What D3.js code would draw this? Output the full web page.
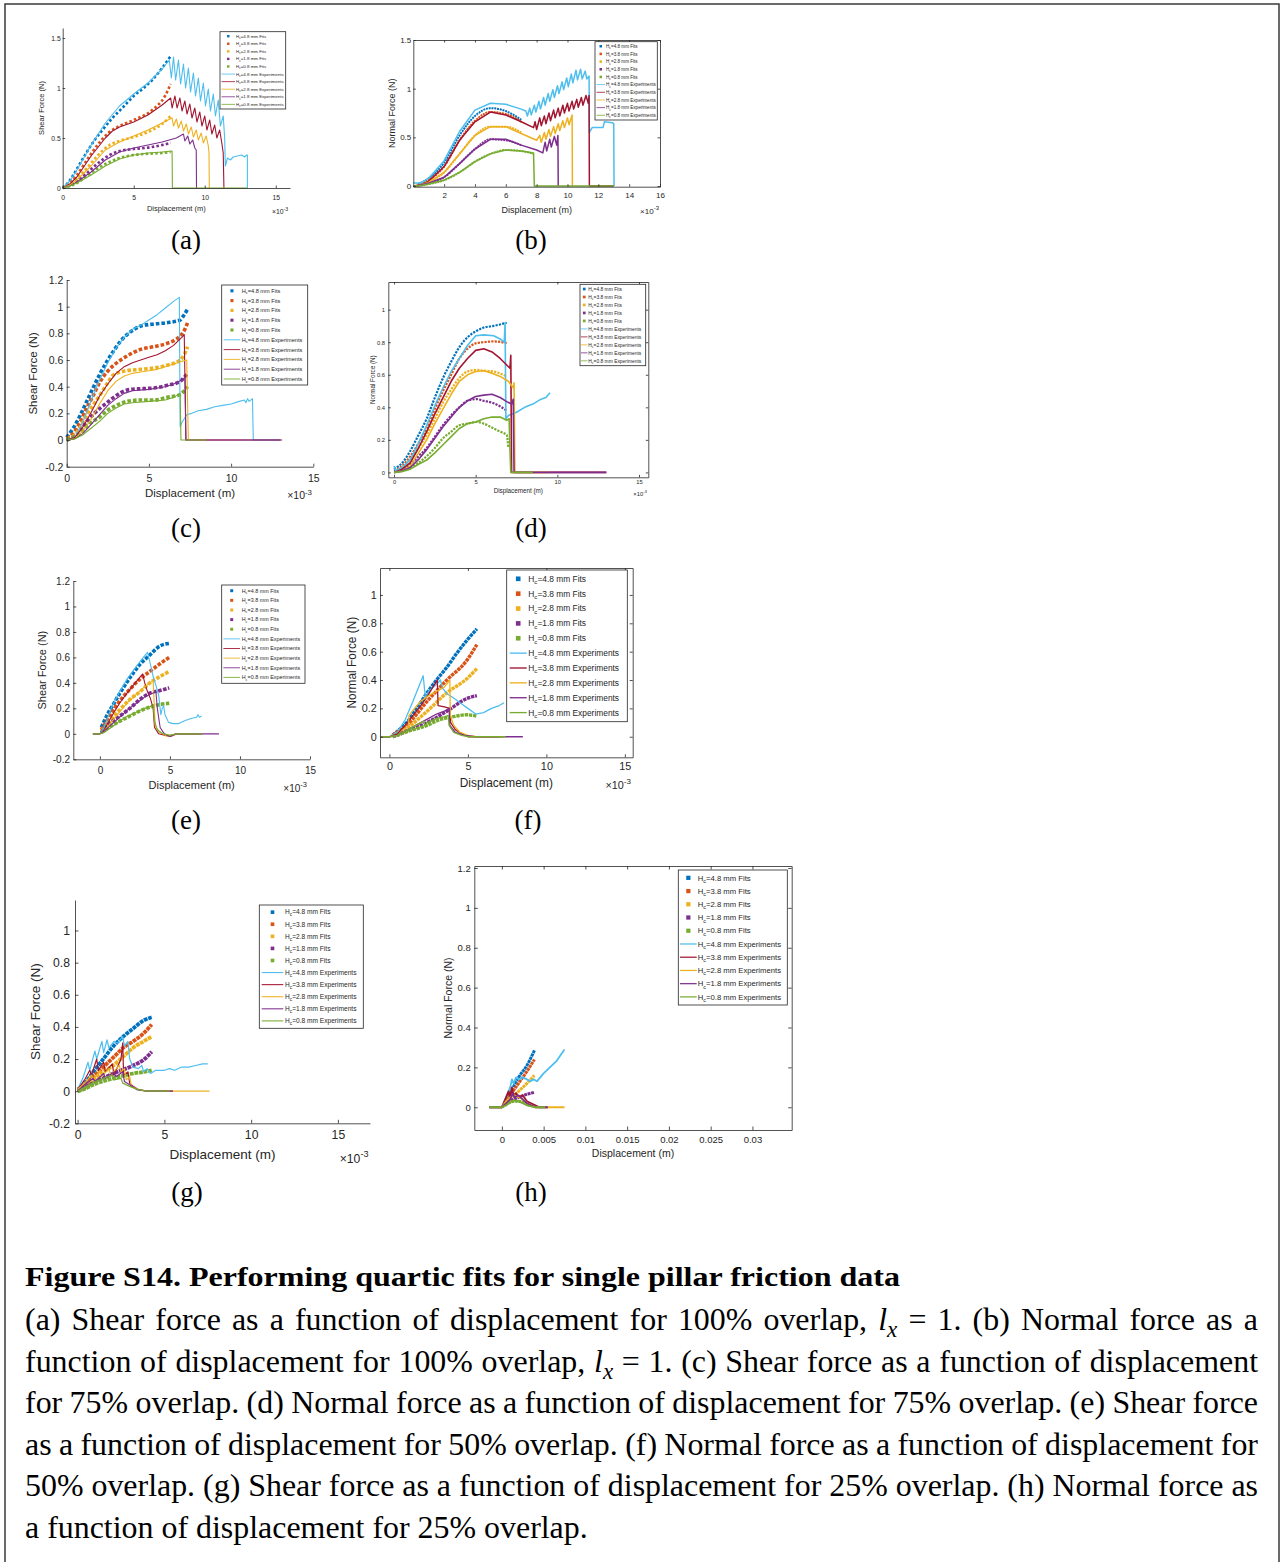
<!DOCTYPE html>
<html>
<head>
<meta charset="utf-8">
<script src="https://cdn.jsdelivr.net/npm/d3@7"></script>
<style>
	body { margin: 0; background: #fff; }
	svg { display: block; }
</style>
</head>
<body>
<svg id="fig" width="1282" height="1562"></svg>
<script>
// Series names, colours (MATLAB default order)
const heights = ['4.8', '3.8', '2.8', '1.8', '0.8'];
const fit_colours = ['#0072BD', '#D95319', '#EDB120', '#7E2F8E', '#77AC30'];
const exp_colours = ['#4DBEEE', '#A2142F', '#EDB120', '#7E2F8E', '#77AC30'];

// Tick values (x in units of 1e-3 m)
const ticks_x_0_15 = [0, 5, 10, 15];
const ticks_x_b = [2, 4, 6, 8, 10, 12, 14, 16];
const ticks_x_h = [0, 5, 10, 15, 20, 25, 30];
const labels_x_h = ['0', '0.005', '0.01', '0.015', '0.02', '0.025', '0.03'];
const ticks_y_half = [0, 0.5, 1, 1.5];
const ticks_y_shear = [-0.2, 0, 0.2, 0.4, 0.6, 0.8, 1, 1.2];
const ticks_y_shear_g = [-0.2, 0, 0.2, 0.4, 0.6, 0.8, 1];
const ticks_y_normal = [0, 0.2, 0.4, 0.6, 0.8, 1];
const ticks_y_normal_h = [0, 0.2, 0.4, 0.6, 0.8, 1, 1.2];

// (a) shear, 100% overlap
const a_fits = [
	[[0,0],[0.3,0.04],[0.7,0.12],[1.2,0.24],[1.7,0.36],[2.2,0.47],[2.8,0.58],[3.5,0.7],[4.2,0.8],[5,0.92],[5.7,1.0],[6.3,1.08],[7,1.2],[7.6,1.32]],
	[[0,0],[0.5,0.05],[1,0.13],[1.7,0.28],[2.5,0.44],[3.2,0.55],[4,0.62],[5,0.68],[6.3,0.78],[7.2,0.92],[7.6,1.04]],
	[[0,0],[0.5,0.04],[1,0.1],[1.7,0.2],[2.5,0.33],[3.3,0.43],[4,0.47],[5,0.51],[6.3,0.58],[7,0.64],[7.6,0.72]],
	[[0,0],[0.5,0.03],[1,0.07],[1.7,0.15],[2.5,0.25],[3.3,0.33],[4,0.37],[5,0.39],[6.3,0.41],[7,0.43],[7.6,0.45]],
	[[0,0],[0.5,0.02],[1,0.05],[1.7,0.12],[2.5,0.2],[3.3,0.26],[4,0.3],[5,0.33],[6.3,0.345],[7,0.35],[7.6,0.36]]
];
const a_exps = [
	[[0,0],[0.5,0.07],[1,0.18],[2,0.43],[3,0.65],[4,0.82],[5,0.94],[6,1.05],[7,1.19],[7.5,1.28],[7.65,1.1],[7.8,1.31],[7.95,1.08],[8.15,1.28],[8.3,1.04],[8.5,1.24],[8.65,1.0],[8.85,1.2],[9.0,0.96],[9.2,1.15],[9.35,0.92],[9.55,1.1],[9.7,0.87],[9.9,1.05],[10.05,0.82],[10.25,0.99],[10.4,0.77],[10.6,0.94],[10.75,0.72],[10.95,0.88],[11.1,0.62],[11.3,0.72],[11.4,0.5],[11.45,0.22],[11.6,0.3],[11.8,0.28],[12.0,0.31],[12.3,0.32],[12.6,0.33],[12.8,0.31],[12.95,0.33],[13.0,0.33],[13.0,0]],
	[[0,0],[0.5,0.04],[1,0.11],[2,0.32],[3,0.5],[3.5,0.57],[4,0.61],[5,0.66],[6,0.73],[7,0.83],[7.6,0.9],[7.7,0.8],[7.9,0.92],[8.05,0.8],[8.25,0.9],[8.4,0.77],[8.6,0.87],[8.75,0.74],[8.95,0.84],[9.1,0.7],[9.3,0.8],[9.45,0.66],[9.65,0.76],[9.8,0.62],[10.0,0.72],[10.15,0.58],[10.35,0.68],[10.5,0.54],[10.7,0.63],[10.85,0.5],[11.05,0.58],[11.2,0.45],[11.3,0.35],[11.35,0]],
	[[0,0],[0.5,0.03],[1,0.08],[2,0.22],[3,0.38],[4,0.46],[5,0.52],[6,0.58],[7,0.65],[7.7,0.7],[7.8,0.62],[8.0,0.69],[8.15,0.6],[8.35,0.67],[8.5,0.57],[8.7,0.64],[8.85,0.54],[9.05,0.61],[9.2,0.51],[9.4,0.58],[9.55,0.48],[9.75,0.55],[9.9,0.45],[10.1,0.52],[10.25,0.42],[10.3,0.35],[10.32,0]],
	[[0,0],[0.5,0.02],[1,0.06],[2,0.16],[3,0.28],[4,0.36],[5,0.4],[6,0.43],[7,0.46],[8,0.5],[8.5,0.54],[8.6,0.47],[8.8,0.52],[8.95,0.44],[9.15,0.48],[9.3,0.4],[9.4,0.38],[9.42,0]],
	[[0,0],[0.5,0.02],[1,0.05],[2,0.13],[3,0.22],[4,0.29],[5,0.33],[6,0.35],[7,0.36],[7.7,0.37],[7.72,0],[13,0]]
];

// (b) normal, 100% overlap
const b_fits = [
	[[0.3,0.02],[1,0.08],[2,0.24],[3,0.52],[4,0.72],[5,0.8],[6,0.77],[7,0.68]],
	[[0.3,0.01],[1,0.06],[2,0.2],[3,0.47],[4,0.67],[5,0.76],[6,0.74],[7,0.66]],
	[[0.3,0.01],[1,0.04],[2,0.14],[3,0.33],[4,0.52],[5,0.61],[6,0.61],[7,0.55]],
	[[0.3,0.01],[1,0.03],[2,0.09],[3,0.23],[4,0.38],[5,0.48],[6,0.47],[7,0.42]],
	[[0.3,0],[1,0.02],[2,0.06],[3,0.14],[4,0.25],[5,0.33],[6,0.37],[7,0.36],[7.8,0.33]]
];
const b_exps = [
	[[0,0.03],[0.5,0.03],[1,0.08],[2,0.26],[3,0.56],[4,0.78],[5,0.85],[6,0.84],[7,0.79],[7.3,0.77],[7.4,0.72],[7.55,0.8],[7.65,0.73],[7.85,0.83],[7.95,0.76],[8.15,0.87],[8.25,0.79],[8.45,0.91],[8.55,0.83],[8.75,0.95],[8.85,0.87],[9.05,0.99],[9.15,0.91],[9.35,1.03],[9.45,0.95],[9.65,1.07],[9.75,0.99],[9.95,1.11],[10.05,1.02],[10.25,1.15],[10.35,1.06],[10.55,1.19],[10.65,1.09],[10.85,1.2],[10.95,1.1],[11.15,1.18],[11.25,1.1],[11.4,1.13],[11.42,0.55],[11.6,0.6],[12.0,0.6],[12.3,0.6],[12.4,0.66],[12.9,0.65],[13.0,0.64],[13.02,0]],
	[[0,0],[0.5,0.01],[1,0.05],[2,0.2],[3,0.47],[4,0.66],[5,0.76],[6,0.73],[7,0.66],[7.8,0.6],[7.9,0.66],[8.0,0.58],[8.2,0.7],[8.3,0.62],[8.5,0.72],[8.6,0.64],[8.8,0.75],[8.9,0.67],[9.1,0.78],[9.2,0.7],[9.4,0.8],[9.5,0.72],[9.7,0.83],[9.8,0.75],[10.0,0.85],[10.1,0.77],[10.3,0.87],[10.4,0.79],[10.6,0.89],[10.7,0.81],[10.9,0.91],[11.0,0.83],[11.2,0.93],[11.35,0.85],[11.4,0.93],[11.42,0],[13,0]],
	[[0,0],[0.5,0.01],[1,0.04],[2,0.14],[3,0.33],[4,0.52],[5,0.61],[6,0.61],[7,0.54],[8,0.47],[8.2,0.52],[8.3,0.45],[8.5,0.55],[8.6,0.48],[8.8,0.58],[8.9,0.51],[9.1,0.61],[9.2,0.54],[9.4,0.64],[9.5,0.57],[9.7,0.67],[9.8,0.6],[10.0,0.7],[10.1,0.63],[10.3,0.73],[10.32,0]],
	[[0,0],[0.5,0.01],[1,0.03],[2,0.09],[3,0.23],[4,0.38],[5,0.48],[6,0.48],[7,0.42],[8,0.37],[8.4,0.34],[8.55,0.45],[8.65,0.36],[8.85,0.48],[8.95,0.4],[9.15,0.51],[9.3,0.42],[9.38,0.52],[9.4,0]],
	[[0,0],[0.5,0.005],[1,0.02],[2,0.06],[3,0.14],[4,0.25],[5,0.33],[6,0.37],[7,0.36],[7.8,0.34],[7.85,0],[13,0]]
];

// (c) shear, 75% overlap
const c_fits = [
	[[0,0.02],[0.4,0.09],[0.8,0.18],[1.22,0.29],[1.6,0.39],[2.04,0.5],[2.45,0.59],[2.86,0.67],[3.27,0.74],[3.67,0.79],[4.1,0.83],[4.5,0.855],[5.3,0.87],[6.1,0.88],[6.9,0.9],[7.15,0.94],[7.35,0.98]],
	[[0,0.01],[0.4,0.05],[0.8,0.13],[1.22,0.24],[1.6,0.33],[2.04,0.44],[2.45,0.51],[2.86,0.56],[3.67,0.63],[4.5,0.68],[5.3,0.7],[6.1,0.725],[6.9,0.78],[7.15,0.82],[7.35,0.88]],
	[[0,0.01],[0.4,0.03],[0.8,0.09],[1.22,0.19],[1.6,0.26],[2.04,0.34],[2.45,0.42],[2.86,0.49],[3.67,0.52],[4.5,0.53],[5.3,0.54],[6.1,0.56],[6.9,0.6],[7.15,0.64],[7.35,0.7]],
	[[0,0],[0.4,0.02],[0.8,0.06],[1.22,0.14],[1.6,0.19],[2.04,0.24],[2.45,0.28],[2.86,0.32],[3.67,0.375],[4.5,0.385],[5.3,0.39],[6.1,0.41],[6.9,0.44],[7.15,0.47],[7.35,0.5]],
	[[0,0],[0.4,0.02],[0.8,0.05],[1.22,0.1],[1.6,0.14],[2.04,0.175],[2.45,0.22],[2.86,0.25],[3.67,0.29],[4.5,0.3],[5.3,0.3],[6.1,0.32],[6.9,0.34],[7.15,0.37],[7.35,0.4]]
];
const c_exps = [
	[[0,0],[0.5,0.02],[1,0.14],[1.5,0.3],[2,0.45],[2.5,0.58],[3,0.69],[3.5,0.77],[4,0.83],[4.5,0.86],[5,0.9],[5.5,0.94],[6,0.99],[6.5,1.04],[6.85,1.07],[6.9,0.1],[7.0,0.13],[7.3,0.19],[7.6,0.2],[8,0.22],[8.5,0.23],[9,0.25],[9.5,0.26],[10,0.27],[10.5,0.29],[10.8,0.3],[10.9,0.28],[11.0,0.31],[11.1,0.29],[11.3,0.31],[11.35,0],[13,0]],
	[[0,0],[0.5,0.02],[1,0.1],[1.5,0.21],[2,0.33],[2.5,0.42],[3,0.5],[3.5,0.55],[4,0.58],[4.5,0.6],[5,0.62],[5.5,0.64],[6,0.67],[6.5,0.71],[7,0.77],[7.15,0.79],[7.25,0],[13.1,0]],
	[[0,0],[0.5,0.01],[1,0.07],[1.5,0.16],[2,0.27],[2.5,0.37],[3,0.44],[3.5,0.48],[4,0.5],[4.5,0.51],[5,0.52],[5.5,0.53],[6,0.55],[6.5,0.57],[7,0.59],[7.3,0.6],[7.4,0],[8.5,0]],
	[[0,0],[0.5,0.01],[1,0.05],[1.5,0.12],[2,0.19],[2.5,0.26],[3,0.31],[3.5,0.35],[4,0.37],[5,0.38],[6,0.4],[6.5,0.42],[7,0.45],[7.2,0.47],[7.25,0],[13,0]],
	[[0,0],[0.5,0.01],[1,0.04],[1.5,0.09],[2,0.14],[2.5,0.2],[3,0.24],[3.5,0.27],[4,0.28],[5,0.29],[6,0.3],[6.5,0.32],[6.9,0.35],[6.95,0],[8.5,0]]
];

// (d) normal, 75% overlap
const d_fits = [
	[[0,0.02],[0.57,0.066],[0.98,0.13],[1.5,0.23],[2,0.33],[2.5,0.46],[3,0.58],[3.5,0.68],[4,0.77],[4.5,0.83],[5.06,0.87],[5.5,0.89],[6.1,0.9],[6.9,0.92]],
	[[0,0.01],[0.5,0.04],[1,0.1],[1.5,0.18],[2,0.27],[2.5,0.39],[3,0.5],[3.5,0.6],[4,0.7],[4.5,0.76],[5.06,0.795],[5.5,0.8],[6.1,0.805],[6.9,0.795]],
	[[0,0.01],[0.5,0.03],[1,0.08],[1.5,0.15],[2,0.23],[2.5,0.33],[3,0.43],[3.5,0.51],[4,0.58],[4.5,0.62],[5.06,0.63],[5.5,0.625],[6.1,0.62],[6.9,0.59]],
	[[0,0.01],[0.5,0.02],[1,0.05],[1.5,0.1],[2,0.15],[2.5,0.22],[3,0.29],[3.5,0.35],[4,0.4],[4.5,0.44],[5.06,0.45],[5.5,0.44],[6.1,0.425],[6.9,0.38]],
	[[0,0],[0.5,0.01],[1,0.03],[1.5,0.06],[2,0.1],[2.5,0.15],[3,0.21],[3.5,0.25],[4,0.29],[4.5,0.3],[5.06,0.31],[5.5,0.3],[6.1,0.27],[6.5,0.25],[6.9,0.23],[7.0,0.15]]
];
const d_exps = [
	[[0,0.04],[0.1,0.01],[0.5,0.03],[1,0.08],[1.5,0.18],[2,0.29],[2.5,0.41],[3,0.52],[3.5,0.62],[4,0.7],[4.5,0.78],[5,0.84],[5.5,0.845],[6.1,0.84],[6.5,0.82],[6.75,0.8],[6.8,0.92],[6.85,0.33],[7,0.35],[7.5,0.37],[8,0.4],[8.5,0.42],[9,0.45],[9.3,0.46],[9.55,0.49]],
	[[0,0],[0.5,0.02],[1,0.06],[1.5,0.15],[2,0.25],[2.5,0.36],[3,0.46],[3.5,0.56],[4,0.64],[4.5,0.7],[5,0.75],[5.5,0.76],[6,0.74],[6.5,0.7],[6.9,0.66],[7.1,0.64],[7.15,0.72],[7.2,0],[13,0]],
	[[0,0],[0.5,0.01],[1,0.04],[1.5,0.12],[2,0.2],[2.5,0.3],[3,0.39],[3.5,0.48],[4,0.56],[4.5,0.6],[5,0.62],[5.5,0.625],[6,0.61],[6.5,0.59],[7,0.56],[7.3,0.52],[7.35,0.55],[7.4,0],[9.5,0]],
	[[0,0],[0.5,0.01],[1,0.03],[1.5,0.08],[2,0.14],[2.5,0.21],[3,0.28],[3.5,0.34],[4,0.4],[4.5,0.44],[5,0.466],[5.5,0.475],[6,0.48],[6.5,0.46],[6.9,0.435],[7.2,0.42],[7.3,0.45],[7.35,0],[13,0]],
	[[0,0],[0.5,0.005],[1,0.02],[1.5,0.05],[2,0.076],[2.5,0.12],[3,0.17],[3.5,0.22],[4,0.27],[4.5,0.3],[5,0.31],[5.5,0.33],[6,0.34],[6.5,0.34],[6.9,0.32],[7.05,0.33],[7.1,0.14],[7.15,0],[8.5,0]]
];

// (e) shear, 50% overlap
const e_fits = [
	[[0.1,0.05],[0.48,0.14],[0.95,0.23],[1.43,0.32],[2.14,0.44],[2.86,0.545],[3.57,0.62],[4.29,0.69],[4.95,0.71]],
	[[0.1,0.03],[0.48,0.1],[1.43,0.26],[2.14,0.35],[2.86,0.43],[3.57,0.49],[4.29,0.55],[4.95,0.6]],
	[[0.1,0.02],[0.48,0.07],[1.43,0.19],[2.14,0.27],[2.86,0.33],[3.57,0.4],[4.29,0.45],[4.95,0.49]],
	[[0.1,0.01],[0.48,0.06],[1.43,0.14],[2.14,0.2],[2.86,0.27],[3.57,0.32],[4.29,0.34],[4.95,0.36]],
	[[0.1,0.01],[0.48,0.04],[1.43,0.1],[2.14,0.14],[2.86,0.18],[3.57,0.21],[4.29,0.23],[4.95,0.24]]
];
const e_exps = [
	[[-0.5,0],[0,0],[0.3,0.05],[0.8,0.2],[1.4,0.33],[2,0.44],[2.6,0.53],[3.1,0.6],[3.4,0.64],[3.6,0.55],[3.8,0.45],[4.0,0.38],[4.2,0.3],[4.35,0.15],[4.45,0.2],[4.55,0.22],[4.65,0.15],[4.9,0.09],[5.2,0.08],[5.6,0.08],[6,0.1],[6.5,0.12],[6.9,0.13],[7.0,0.15],[7.1,0.13],[7.26,0.14]],
	[[-0.5,0],[0,0],[0.3,0.03],[0.8,0.13],[1.4,0.24],[2,0.33],[2.6,0.41],[3.05,0.47],[3.2,0.4],[3.4,0.33],[3.6,0.28],[3.8,0.2],[3.9,0.05],[4.2,0],[4.6,-0.01],[5,-0.02],[5.3,-0.01],[5.5,0],[7.3,0]],
	[[-0.5,0],[0,0],[0.3,0.02],[0.8,0.09],[1.4,0.17],[2,0.25],[2.6,0.31],[3.2,0.37],[3.8,0.42],[3.85,0.3],[3.95,0.06],[4.3,0.01],[4.8,-0.02],[5.2,-0.01],[5.5,0],[7.3,0]],
	[[-0.5,0],[0,0],[0.3,0.02],[0.8,0.07],[1.4,0.13],[2,0.19],[2.6,0.24],[3.2,0.29],[3.8,0.32],[4.0,0.33],[4.1,0.2],[4.3,0.05],[4.6,0],[5,-0.02],[5.4,0],[8.5,0]],
	[[-0.5,0],[0,0],[0.3,0.01],[0.8,0.05],[1.4,0.1],[2,0.14],[2.6,0.17],[3.2,0.2],[3.8,0.22],[3.9,0.1],[4.1,0.03],[4.5,0],[5,-0.01],[5.5,0],[7.3,0]]
];

// (f) normal, 50% overlap
const f_fits = [
	[[0.2,0.01],[0.47,0.035],[1.1,0.1],[1.75,0.2],[2.4,0.31],[3.0,0.4],[3.66,0.49],[4.3,0.59],[4.94,0.68],[5.57,0.76]],
	[[0.2,0.01],[0.47,0.03],[1.1,0.08],[2.4,0.25],[3.66,0.4],[4.94,0.54],[5.57,0.65]],
	[[0.2,0.005],[0.47,0.02],[1.1,0.06],[2.4,0.18],[3.66,0.31],[4.94,0.41],[5.57,0.48]],
	[[0.2,0],[0.47,0.01],[1.1,0.04],[2.4,0.1],[3.66,0.18],[4.94,0.27],[5.57,0.29]],
	[[0.2,0],[0.47,0.01],[1.1,0.035],[2.4,0.08],[3.2,0.12],[4.0,0.14],[4.94,0.155],[5.57,0.145]]
];
const f_exps = [
	[[-0.5,0],[0,0],[0.5,0.03],[1,0.12],[1.5,0.25],[2.15,0.43],[2.3,0.27],[2.5,0.32],[3.0,0.37],[3.25,0.4],[3.4,0.34],[3.7,0.3],[4.0,0.28],[4.5,0.24],[5,0.2],[5.5,0.16],[6,0.17],[6.5,0.2],[7,0.22],[7.3,0.24]],
	[[-0.5,0],[0,0],[0.5,0.02],[1,0.08],[1.5,0.15],[2,0.22],[2.5,0.3],[3.05,0.4],[3.1,0.22],[3.5,0.21],[3.85,0.2],[3.9,0.1],[4.2,0.05],[4.6,0.02],[5,0],[7,0]],
	[[-0.5,0],[0,0],[0.5,0.01],[1.2,0.05],[1.25,0.15],[1.6,0.2],[2,0.25],[2.5,0.29],[3,0.32],[3.5,0.35],[3.85,0.4],[3.88,0.15],[4.1,0.08],[4.5,0.03],[5,0.01],[5.5,0],[7.3,0]],
	[[-0.5,0],[0,0],[0.5,0.01],[1,0.04],[1.5,0.07],[2,0.1],[2.5,0.13],[3,0.16],[3.5,0.18],[3.8,0.2],[3.85,0.08],[4.2,0.03],[4.8,0.01],[5.5,0],[8.5,0]],
	[[-0.5,0],[0,0],[0.5,0.01],[1,0.04],[1.5,0.07],[2.2,0.11],[2.3,0.07],[2.4,0.1],[3,0.13],[3.5,0.14],[3.75,0.15],[3.8,0.08],[4.1,0.03],[4.6,0.01],[5,0],[7.4,0]]
];

// (g) shear, 25% overlap
const g_fits = [
	[[0,0.01],[0.33,0.036],[0.9,0.12],[1.48,0.2],[2.06,0.28],[2.63,0.34],[3.2,0.39],[3.8,0.44],[4.27,0.46]],
	[[0,0.01],[0.33,0.03],[0.9,0.09],[1.48,0.15],[2.06,0.21],[2.63,0.27],[3.2,0.31],[3.8,0.36],[4.27,0.415]],
	[[0,0.01],[0.33,0.02],[0.9,0.07],[1.48,0.12],[2.06,0.16],[2.63,0.215],[3.2,0.27],[3.8,0.31],[4.27,0.34]],
	[[0,0],[0.33,0.02],[0.9,0.05],[2.06,0.11],[3.2,0.16],[3.8,0.195],[4.27,0.245]],
	[[0,0],[0.33,0.01],[0.9,0.04],[2.06,0.08],[3.2,0.11],[3.8,0.12],[4.27,0.13]]
];
const g_exps = [
	[[0,0.01],[0.3,0.08],[0.6,0.18],[0.7,0.13],[1.0,0.25],[1.1,0.2],[1.4,0.31],[1.5,0.24],[1.7,0.32],[1.8,0.27],[2.1,0.31],[2.3,0.3],[2.6,0.34],[2.7,0.28],[2.9,0.31],[3.0,0.2],[3.2,0.15],[3.5,0.14],[3.7,0.16],[3.8,0.12],[4.0,0.14],[4.2,0.11],[4.5,0.13],[5.0,0.13],[5.3,0.14],[5.6,0.13],[6.0,0.15],[6.4,0.15],[6.8,0.16],[7.2,0.17],[7.5,0.17]],
	[[0,0.01],[0.4,0.07],[0.7,0.13],[0.8,0.1],[1.1,0.2],[1.2,0.13],[1.5,0.18],[1.6,0.12],[2.0,0.17],[2.1,0.1],[2.5,0.2],[2.6,0.3],[2.65,0.1],[2.9,0.12],[3.0,0.05],[3.2,0.03],[3.5,0.01],[4.0,0],[5.5,0]],
	[[0,0.01],[0.4,0.05],[0.8,0.1],[0.9,0.07],[1.3,0.13],[1.4,0.09],[1.8,0.14],[1.9,0.1],[2.4,0.16],[2.5,0.12],[2.7,0.14],[2.8,0.07],[3.0,0.09],[3.1,0.03],[3.5,0.01],[4.0,0],[7.6,0]],
	[[0,0],[0.4,0.04],[0.9,0.08],[1.0,0.06],[1.5,0.11],[1.6,0.08],[2.1,0.12],[2.2,0.09],[2.6,0.12],[2.7,0.06],[3.0,0.04],[3.4,0.01],[4.0,0],[5.5,0]],
	[[0,0],[0.5,0.03],[1.0,0.06],[1.5,0.08],[2.0,0.1],[2.1,0.07],[2.5,0.08],[2.6,0.05],[3.0,0.03],[3.5,0.01],[4.0,0],[5.3,0]]
];

// (h) normal, 25% overlap
const h_fits = [
	[[0.4,0.02],[1,0.07],[2,0.15],[3,0.21],[3.9,0.285]],
	[[0.4,0.02],[1,0.06],[2,0.12],[3,0.18],[3.9,0.24]],
	[[0.4,0.01],[1,0.04],[2,0.08],[3,0.12],[3.9,0.16]],
	[[0.4,0.01],[1,0.03],[2,0.05],[3,0.065],[3.9,0.075]],
	[[0,0],[0.5,0.015],[1,0.025],[1.5,0.03],[2,0.03],[2.5,0.025],[3,0.015],[3.5,0.01],[3.9,0.005]]
];
const h_exps = [
	[[-1.5,0],[0,0],[0.5,0.05],[1,0.1],[1.2,0.14],[1.4,0.12],[1.7,0.15],[2,0.14],[2.5,0.15],[3,0.14],[3.4,0.13],[3.8,0.14],[4.2,0.13],[4.6,0.15],[5,0.17],[5.5,0.19],[6,0.21],[6.5,0.23],[7,0.26],[7.5,0.29]],
	[[-1.5,0],[0,0],[0.4,0.04],[0.8,0.08],[1.0,0.05],[1.2,0.1],[1.4,0.06],[1.7,0.07],[2,0.05],[2.5,0.06],[3,0.03],[3.5,0.02],[4,0.01],[4.5,0],[5.5,0]],
	[[-1.5,0],[0,0],[0.5,0.03],[1,0.05],[1.5,0.06],[2,0.05],[2.5,0.04],[3,0.02],[3.5,0.01],[4,0],[7.5,0]],
	[[-1.5,0],[0,0],[0.5,0.02],[1,0.04],[1.3,0.07],[1.5,0.05],[2,0.06],[2.5,0.04],[3,0.02],[3.5,0.01],[4,0],[5.5,0]],
	[[-1.5,0],[0,0],[0.5,0.01],[1,0.025],[1.5,0.035],[2,0.03],[2.5,0.02],[3,0.01],[3.5,0.005],[4,0],[5.2,0]]
];

const caption_title = 'Figure S14. Performing quartic fits for single pillar friction data';
// '§' marks the italic l with subscript x
const caption_lines = [
	'(a) Shear force as a function of displacement for 100% overlap, § = 1. (b) Normal force as a',
	'function of displacement for 100% overlap, § = 1. (c) Shear force as a function of displacement',
	'for 75% overlap. (d) Normal force as a function of displacement for 75% overlap. (e) Shear force',
	'as a function of displacement for 50% overlap. (f) Normal force as a function of displacement for',
	'50% overlap. (g) Shear force as a function of displacement for 25% overlap. (h) Normal force as',
	'a function of displacement for 25% overlap.'
];

const ink = '#262626';
const sans = '"Liberation Sans", Arial, Helvetica, sans-serif';
const serif = '"Liberation Serif", "Times New Roman", Times, serif';
const svg = d3.select('#fig');

const panels = [
	{ name: 'a', fits: a_fits, exps: a_exps, left: 62.7, right: 290, top: 28, bottom: 188,
		x_domain: [0, 16], y_domain: [0, 1.6], x_ticks: ticks_x_0_15, y_ticks: ticks_y_half,
		box: false, tick_fs: 6.8, label_fs: 7.5, tick: 2.5, xpad: 7.5, ypad: 2,
		y_label: 'Shear Force (N)', ylx: 41.7, xly: 208.3, mult: [288, 211.7],
		marker: 2.6, gap: 2.2, lw: 1.1, sub: [186, 249, '(a)'],
		leg: { x0: 220, y0: 31.7, x1: 285.7, y1: 109, ls: 1.5, le: 15, tx: 16, fs: 4.4 } },
	{ name: 'b', fits: b_fits, exps: b_exps, left: 413.3, right: 660, top: 40, bottom: 186.7,
		x_domain: [0, 16], y_domain: [-0.007, 1.5], x_ticks: ticks_x_b, y_ticks: ticks_y_half,
		box: true, tick_fs: 8, label_fs: 9, tick: 2.5, xpad: 5.7, ypad: 2,
		y_label: 'Normal Force (N)', ylx: 391.7, xly: 210, mult: [659, 211],
		marker: 2, gap: 0.8, lw: 1.5, sub: [531, 249, '(b)'],
		leg: { x0: 595, y0: 41.7, x1: 657.3, y1: 120, ls: 1.5, le: 10, tx: 11, fs: 4.6 } },
	{ name: 'c', fits: c_fits, exps: c_exps, left: 66.7, right: 313.3, top: 280, bottom: 466.7,
		x_domain: [0, 15], y_domain: [-0.2, 1.2], x_ticks: ticks_x_0_15, y_ticks: ticks_y_shear,
		box: false, tick_fs: 10.5, label_fs: 11.5, tick: 3, xpad: 7.8, ypad: 3.4,
		y_label: 'Shear Force (N)', ylx: 33.3, xly: 493.3, mult: [312, 495.7],
		marker: 3.6, gap: 2, lw: 1.1, sub: [186, 537, '(c)'],
		leg: { x0: 221.7, y0: 285, x1: 307.7, y1: 385, ls: 2, le: 18.5, tx: 20, fs: 5.6 } },
	{ name: 'd', fits: d_fits, exps: d_exps, left: 388.3, right: 648.3, top: 282, bottom: 477.3,
		x_domain: [-0.35, 15.57], y_domain: [-0.03, 1.17], x_ticks: ticks_x_0_15, y_ticks: ticks_y_normal,
		box: true, tick_fs: 5.8, label_fs: 6.3, tick: 2.5, xpad: 2.3, ypad: 3.3,
		y_label: 'Normal Force (N)', ylx: 372.7, xly: 490, mult: [647, 494],
		marker: 2.2, gap: 1.2, lw: 1.6, sub: [531, 537, '(d)'],
		leg: { x0: 580, y0: 284.3, x1: 645.7, y1: 365.7, ls: 1, le: 7.5, tx: 8.3, fs: 4.9 } },
	{ name: 'e', fits: e_fits, exps: e_exps, left: 73.3, right: 310, top: 581, bottom: 759.3,
		x_domain: [-1.9, 15], y_domain: [-0.2, 1.2], x_ticks: ticks_x_0_15, y_ticks: ticks_y_shear,
		box: false, tick_fs: 10, label_fs: 11, tick: 3, xpad: 8, ypad: 3.3,
		y_label: 'Shear Force (N)', ylx: 41.7, xly: 785, mult: [307, 788.3],
		marker: 3.6, gap: 1.5, lw: 1.1, sub: [186, 829, '(e)'],
		leg: { x0: 221.7, y0: 585, x1: 305, y1: 683.3, ls: 1.7, le: 18.3, tx: 20, fs: 5.4 } },
	{ name: 'f', fits: f_fits, exps: f_exps, left: 380, right: 632.7, top: 568, bottom: 757.3,
		x_domain: [-0.6, 15.5], y_domain: [-0.145, 1.19], x_ticks: ticks_x_0_15, y_ticks: ticks_y_normal,
		box: true, tick_fs: 10.8, label_fs: 11.9, tick: 3, xpad: 4.7, ypad: 3.3,
		y_label: 'Normal Force (N)', ylx: 351.7, xly: 783, mult: [631, 785],
		marker: 3.4, gap: 0.8, lw: 1.3, sub: [528, 829, '(f)'],
		leg: { x0: 506.7, y0: 570, x1: 627.3, y1: 721.7, ls: 3, le: 20, tx: 21.6, fs: 8.4 } },
	{ name: 'g', fits: g_fits, exps: g_exps, left: 75, right: 370, top: 900, bottom: 1123.3,
		x_domain: [-0.15, 16.85], y_domain: [-0.2, 1.19], x_ticks: ticks_x_0_15, y_ticks: ticks_y_shear_g,
		box: false, tick_fs: 12.2, label_fs: 13.5, tick: 3.5, xpad: 7.3, ypad: 5,
		y_label: 'Shear Force (N)', ylx: 35, xly: 1154, mult: [368.5, 1158.3],
		marker: 3.8, gap: 0.8, lw: 1.2, sub: [187, 1201, '(g)'],
		leg: { x0: 259.3, y0: 905, x1: 363.3, y1: 1028.3, ls: 2.4, le: 24, tx: 25.7, fs: 6.6 } },
	{ name: 'h', fits: h_fits, exps: h_exps, left: 474.3, right: 791.7, top: 866, bottom: 1130,
		x_domain: [-3.3, 34.7], y_domain: [-0.114, 1.21], x_ticks: ticks_x_h, x_labels: labels_x_h, y_ticks: ticks_y_normal_h,
		box: true, tick_fs: 9.5, label_fs: 10.5, tick: 3.5, xpad: 6.6, ypad: 3.6,
		y_label: 'Normal Force (N)', ylx: 448.3, xly: 1153.3, mult: null,
		marker: 3, gap: 0.6, lw: 1.8, sub: [531, 1201, '(h)'],
		leg: { x0: 678.3, y0: 870, x1: 787.3, y1: 1005, ls: 1.7, le: 18.4, tx: 19.4, fs: 7.7 } }
];

const style_axis = (sel, p) => {
	sel.attr('font-family', sans).attr('font-size', p.tick_fs);
	sel.select('.domain').attr('stroke', ink).attr('stroke-width', 0.8);
	sel.selectAll('.tick line').attr('stroke', ink).attr('stroke-width', 0.8);
	sel.selectAll('.tick text').attr('fill', ink);
};

const legend_label = (text, kind, i, fs) => {
	text.append('tspan').text('H');
	text.append('tspan').attr('font-size', fs * 0.72).attr('dy', fs * 0.3).text('c');
	text.append('tspan').attr('dy', -fs * 0.3).text(`=${heights[i]} mm ${kind}`);
};

const draw_legend = (g, p) => {
	const L = p.leg;
	const h = L.y1 - L.y0;
	g.append('rect')
		.attr('x', L.x0).attr('y', L.y0)
		.attr('width', L.x1 - L.x0).attr('height', h)
		.attr('fill', '#fff').attr('stroke', ink).attr('stroke-width', 0.8);

	const row_y = (k) => L.y0 + h * (0.058 + 0.098 * k);
	const ms = Math.max(1.6, L.fs * 0.55);

	heights.forEach((_, i) => {
		const cx = L.x0 + (L.ls + L.le) / 2;
		g.append('rect')
			.attr('x', cx - ms / 2).attr('y', row_y(i) - ms / 2)
			.attr('width', ms).attr('height', ms)
			.attr('fill', fit_colours[i]);
		const t = g.append('text')
			.attr('x', L.x0 + L.tx).attr('y', row_y(i) + L.fs * 0.35)
			.attr('font-family', sans).attr('font-size', L.fs).attr('fill', ink);
		legend_label(t, 'Fits', i, L.fs);
	});

	heights.forEach((_, i) => {
		const yy = row_y(i + 5);
		g.append('line')
			.attr('x1', L.x0 + L.ls).attr('x2', L.x0 + L.le)
			.attr('y1', yy).attr('y2', yy)
			.attr('stroke', exp_colours[i]).attr('stroke-width', Math.max(0.8, L.fs * 0.16));
		const t = g.append('text')
			.attr('x', L.x0 + L.tx).attr('y', yy + L.fs * 0.35)
			.attr('font-family', sans).attr('font-size', L.fs).attr('fill', ink);
		legend_label(t, 'Experiments', i, L.fs);
	});
};

const draw_panel = (p) => {
	const g = svg.append('g').attr('class', 'panel-' + p.name);
	const x = d3.scaleLinear().domain(p.x_domain).range([p.left, p.right]);
	const y = d3.scaleLinear().domain(p.y_domain).range([p.bottom, p.top]);

	const fit_line = d3.line().x(d => x(d[0])).y(d => y(d[1])).curve(d3.curveMonotoneX);
	const exp_line = d3.line().x(d => x(d[0])).y(d => y(d[1]));

	if (p.box) {
		g.append('rect')
			.attr('x', p.left).attr('y', p.top)
			.attr('width', p.right - p.left).attr('height', p.bottom - p.top)
			.attr('fill', '#fff');
	}

	// fits first (square markers), then experiments on top
	p.fits.forEach((s, i) => {
		g.append('path')
			.attr('d', fit_line(s))
			.attr('fill', 'none')
			.attr('stroke', fit_colours[i])
			.attr('stroke-width', p.marker)
			.attr('stroke-dasharray', `${p.marker} ${p.gap}`);
	});
	p.exps.forEach((s, i) => {
		g.append('path')
			.attr('d', exp_line(s))
			.attr('fill', 'none')
			.attr('stroke', exp_colours[i])
			.attr('stroke-width', p.lw)
			.attr('stroke-linejoin', 'round');
	});

	const x_fmt = d => p.x_labels ? p.x_labels[p.x_ticks.indexOf(d)] : String(d);
	const y_fmt = d => String(d);

	const x_axis = d3.axisBottom(x).tickValues(p.x_ticks).tickFormat(x_fmt)
		.tickSizeInner(-p.tick).tickSizeOuter(0).tickPadding(p.xpad);
	const y_axis = d3.axisLeft(y).tickValues(p.y_ticks).tickFormat(y_fmt)
		.tickSizeInner(-p.tick).tickSizeOuter(0).tickPadding(p.ypad);

	g.append('g').attr('transform', `translate(0,${p.bottom})`).call(x_axis).call(style_axis, p);
	g.append('g').attr('transform', `translate(${p.left},0)`).call(y_axis).call(style_axis, p);

	if (p.box) {
		const top_axis = d3.axisTop(x).tickValues(p.x_ticks).tickFormat('')
			.tickSizeInner(-p.tick).tickSizeOuter(0);
		const right_axis = d3.axisRight(y).tickValues(p.y_ticks).tickFormat('')
			.tickSizeInner(-p.tick).tickSizeOuter(0);
		g.append('g').attr('transform', `translate(0,${p.top})`).call(top_axis).call(style_axis, p);
		g.append('g').attr('transform', `translate(${p.right},0)`).call(right_axis).call(style_axis, p);
	}

	// axis labels
	g.append('text')
		.attr('x', (p.left + p.right) / 2).attr('y', p.xly)
		.attr('text-anchor', 'middle').attr('dominant-baseline', 'central')
		.attr('font-family', sans).attr('font-size', p.label_fs).attr('fill', ink)
		.text('Displacement (m)');
	g.append('text')
		.attr('transform', `translate(${p.ylx},${(p.top + p.bottom) / 2}) rotate(-90)`)
		.attr('text-anchor', 'middle').attr('dominant-baseline', 'central')
		.attr('font-family', sans).attr('font-size', p.label_fs).attr('fill', ink)
		.text(p.y_label);

	if (p.mult) {
		const m = g.append('text')
			.attr('x', p.mult[0]).attr('y', p.mult[1] + p.tick_fs * 0.35)
			.attr('text-anchor', 'end')
			.attr('font-family', sans).attr('font-size', p.tick_fs).attr('fill', ink);
		m.append('tspan').text('\u00d710');
		m.append('tspan').attr('font-size', p.tick_fs * 0.75).attr('dy', -p.tick_fs * 0.45).text('-3');
	}

	draw_legend(g, p);

	g.append('text')
		.attr('x', p.sub[0]).attr('y', p.sub[1])
		.attr('text-anchor', 'middle')
		.attr('font-family', serif).attr('font-size', 27).attr('fill', '#000')
		.text(p.sub[2]);
};

panels.forEach(draw_panel);

// outer frame (open at the bottom, as in the page crop)
svg.append('path')
	.attr('d', 'M5,1562 V4 H1279 V1562')
	.attr('fill', 'none').attr('stroke', '#3a3a3a').attr('stroke-width', 1.5);

// caption
const cap = svg.append('g').attr('font-family', serif).attr('fill', '#000');
cap.append('text')
	.attr('x', 25).attr('y', 1286)
	.attr('font-size', 28).attr('font-weight', 'bold')
	.attr('textLength', 875).attr('lengthAdjust', 'spacingAndGlyphs')
	.text(caption_title);

const write_word = (sel, w, fs) => {
	const t = sel.append('text').attr('font-size', fs);
	if (w === '§') {
		t.append('tspan').attr('font-style', 'italic').text('l');
		t.append('tspan').attr('font-style', 'italic').attr('font-size', fs * 0.72).attr('dy', fs * 0.22).text('x');
	} else {
		t.text(w);
	}
	return t;
};

// calibrate body size on the last (unjustified) line
const probe = cap.append('text').attr('font-size', 30).text(caption_lines[5]);
const body_fs = 30 * 563 / probe.node().getComputedTextLength();
probe.remove();

const cap_left = 25;
const cap_width = 1233;
caption_lines.forEach((line, li) => {
	const words = line.split(' ');
	const base = 1330 + li * 41.5;
	const nodes = words.map(w => write_word(cap, w, body_fs));
	const widths = nodes.map(n => n.node().getComputedTextLength());
	const total = d3.sum(widths);
	const justify = li < caption_lines.length - 1;
	const gap = justify ? (cap_width - total) / (words.length - 1) : body_fs * 0.25;
	let cx = cap_left;
	nodes.forEach((n, k) => {
		n.attr('x', cx).attr('y', base);
		n.selectAll('tspan').filter((d, j) => j === 0).attr('x', cx);
		cx += widths[k] + gap;
	});
});
</script>
</body>
</html>
